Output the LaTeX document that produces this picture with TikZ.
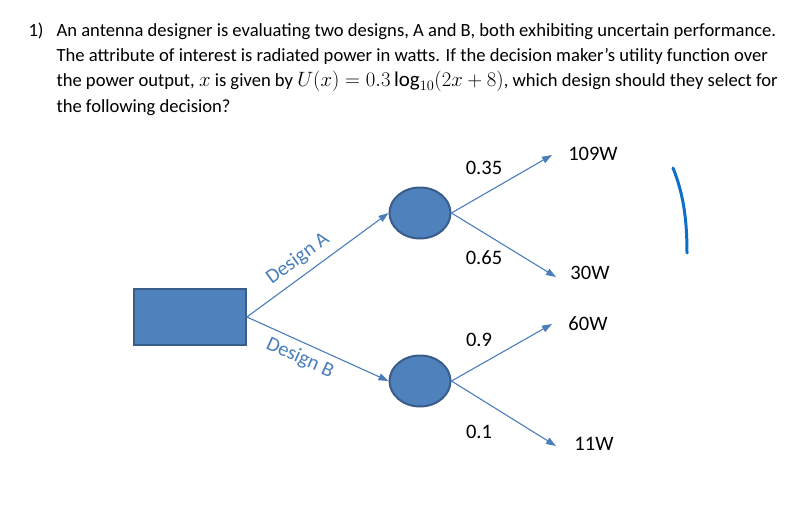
\documentclass[tikz,border=0pt]{standalone}
\usepackage{fontspec}
\setmainfont{Carlito}
\DeclareMathSizes{18.6}{21}{15}{12}
\usetikzlibrary{arrows.meta,shapes.geometric}
\definecolor{boxblue}{HTML}{4F81BD}
\definecolor{edgeblue}{HTML}{385D8A}
\definecolor{lineblue}{HTML}{4A7EBB}
\definecolor{penblue}{HTML}{0B70C6}
\tikzset{ >={Triangle[length=10pt,width=7pt]} }
\tikzset{
  decision/.style={rectangle, fill=boxblue, draw=edgeblue, line width=1.8pt,
    minimum width=112pt, minimum height=56pt, inner sep=0pt},
  chance/.style={ellipse, fill=boxblue, draw=edgeblue, line width=2pt,
    minimum width=61pt, minimum height=51pt, inner sep=0pt},
  branch/.style={->, lineblue, line width=1.1pt},
  qtext/.style={anchor=base west, font=\fontsize{18.6}{22}\selectfont},
  lbl/.style={font=\fontsize{20.5}{24}\selectfont}
}
\begin{document}
\begin{tikzpicture}[x=1pt,y=-1pt]
    \useasboundingbox (0,0) rectangle (806,507);  % Page frame
    % Question text
    \node[qtext] (num) at (25,36)   {1)};
    \node[qtext] (q1)  at (53,36)   {An antenna designer is evaluating two designs, A and B, both exhibiting uncertain performance.};
    \node[qtext] (q2)  at (53,61.3) {The attribute of interest is radiated power in watts. If the decision maker’s utility function over};
    \node[qtext] (q3)  at (53,86.6) {the power output, $x$ is given by $U(x) = 0.3\log_{10}(2x+8)$, which design should they select for};
    \node[qtext] (q4)  at (53,112)  {the following decision?};
    % Tree nodes
    \node[decision] (dec) at (190,317) {};            % Decision box
    \node[chance]   (ca)  at (420,213) {};            % Chance node, design A
    \node[chance]   (cb)  at (420,381) {};            % Chance node, design B
    % Outcome ends
    \coordinate (a1) at (552,155);
    \coordinate (a2) at (556,277);
    \coordinate (b1) at (552,324);
    \coordinate (b2) at (556,446);
    % Branches
    \draw[branch] (dec.east) -- node[lbl, sloped, above=4pt, pos=0.43] (da) {Design A} (ca.west);
    \draw[branch] (dec.east) -- node[lbl, sloped, below=3pt, pos=0.42] (db) {Design B} (cb.west);
    \draw[branch] (ca.east) -- (a1);
    \draw[branch] (ca.east) -- (a2);
    \draw[branch] (cb.east) -- (b1);
    \draw[branch] (cb.east) -- (b2);
    % Probabilities
    \node[lbl] (pa1) at (484,168) {0.35};
    \node[lbl] (pa2) at (484,258) {0.65};
    \node[lbl] (pb1) at (479,340) {0.9};
    \node[lbl] (pb2) at (479,432) {0.1};
    % Payoffs
    \node[lbl] (oa1) at (593,154) {109W};
    \node[lbl] (oa2) at (590,273) {30W};
    \node[lbl] (ob1) at (588,324) {60W};
    \node[lbl] (ob2) at (594,444) {11W};
    % Hand-drawn stroke
    \draw[penblue, line width=3pt, line cap=round] (673,168) .. controls (684,195) and (687,222) .. (687,253);
\end{tikzpicture}
\end{document}
